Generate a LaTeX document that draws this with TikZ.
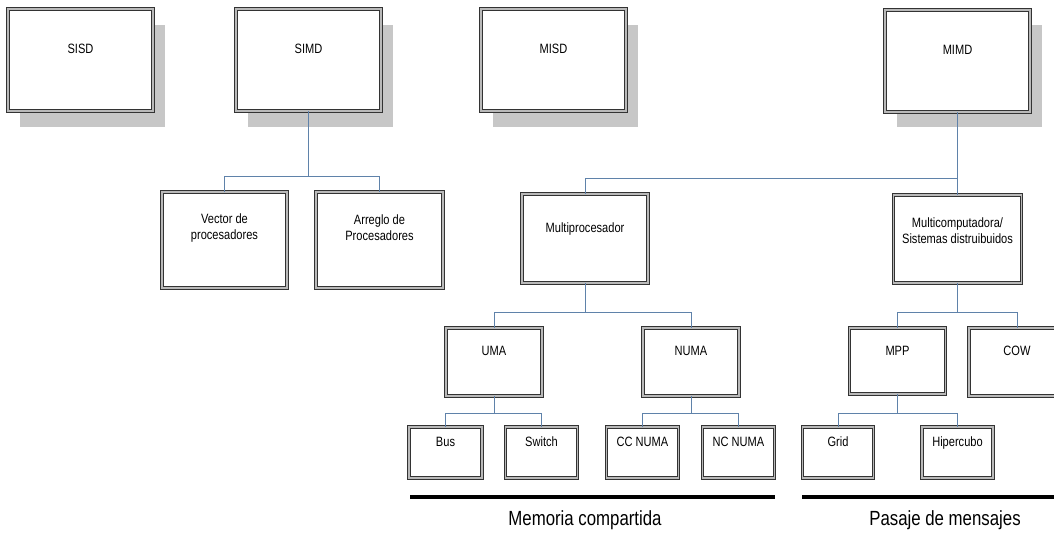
\documentclass[tikz,border=0pt]{standalone}
\usepackage{fontspec}
\setmainfont{Liberation Sans}[FakeStretch=0.82]
\begin{document}
\begin{tikzpicture}[x=1pt,y=-1pt,
  box/.style={draw=black!80, line width=0.9pt, double=gray!55, double distance=1.3pt,
    fill=white, rectangle, inner sep=0pt},
  lbl/.style={font=\fontsize{13.5}{16}\selectfont, align=center},
  lbl1/.style={font=\fontsize{13.5}{16}\selectfont, text height=9.8pt, text depth=2.9pt},
  conn/.style={draw={rgb,255:red,95;green,130;blue,170}, line width=1pt},
  sep/.style={line width=3.5pt, draw=black},
  caption/.style={font=\fontsize{20.5}{24}\selectfont}]
\useasboundingbox (0,0) rectangle (1054,533);
\clip (0,0) rectangle (1054,533);
\fill[white] (0,0) rectangle (1054,533);

% shadows of top boxes
\foreach \cx in {80.5,308.5,553.5,957.5}{
  \fill[black!22] (\cx-72.5+12,9+16) rectangle (\cx+72.5+12,111+16);
}

% top row
\node[box, minimum width=145pt, minimum height=102pt, label={[lbl1,anchor=center,yshift=-41pt]north:SISD}] (sisd) at (80.5,60) {};
\node[box, minimum width=145pt, minimum height=102pt, label={[lbl1,anchor=center,yshift=-41pt]north:SIMD}] (simd) at (308.5,60) {};
\node[box, minimum width=145pt, minimum height=102pt, label={[lbl1,anchor=center,yshift=-41pt]north:MISD}] (misd) at (553.5,60) {};
\node[box, minimum width=145pt, minimum height=102pt, label={[lbl1,anchor=center,yshift=-41pt]north:MIMD}] (mimd) at (957.5,61) {};

% second row
\node[box, minimum width=125pt, minimum height=96pt, label={[lbl,anchor=center,yshift=-36pt]north:Vector de\\procesadores}] (vec) at (224.5,240) {};
\node[box, minimum width=127pt, minimum height=96pt, label={[lbl,anchor=center,yshift=-36pt]north:Arreglo de\\Procesadores}] (arr) at (379.5,240) {};
\node[box, minimum width=126pt, minimum height=89pt, label={[lbl1,anchor=center,yshift=-35pt]north:Multiprocesador}] (mp) at (585,238.5) {};
\node[box, minimum width=128pt, minimum height=88pt, label={[lbl,anchor=center,yshift=-36pt]north:Multicomputadora/\\Sistemas distruibuidos}] (mc) at (957.5,239) {};

% third row
\node[box, minimum width=96pt, minimum height=68pt, label={[lbl1,anchor=center,yshift=-24pt]north:UMA}] (uma) at (494,362) {};
\node[box, minimum width=96pt, minimum height=68pt, label={[lbl1,anchor=center,yshift=-24pt]north:NUMA}] (numa) at (691,362) {};
\node[box, minimum width=96pt, minimum height=66pt, label={[lbl1,anchor=center,yshift=-24pt]north:MPP}] (mpp) at (897.5,361) {};
\node[box, minimum width=96pt, minimum height=68pt, label={[lbl1,anchor=center,yshift=-24pt]north:COW}] (cow) at (1017,362) {};

% fourth row
\node[box, minimum width=73pt, minimum height=51pt, label={[lbl1,anchor=center,yshift=-16pt]north:Bus}] (bus) at (445.5,452.5) {};
\node[box, minimum width=72pt, minimum height=51pt, label={[lbl1,anchor=center,yshift=-16pt]north:Switch}] (sw) at (541.5,452.5) {};
\node[box, minimum width=72pt, minimum height=51pt, label={[lbl1,anchor=center,yshift=-16pt]north:CC NUMA}] (ccn) at (642.5,452.5) {};
\node[box, minimum width=72pt, minimum height=51pt, label={[lbl1,anchor=center,yshift=-16pt]north:NC NUMA}] (ncn) at (738.5,452.5) {};
\node[box, minimum width=71pt, minimum height=51pt, label={[lbl1,anchor=center,yshift=-16pt]north:Grid}] (grid) at (838,452.5) {};
\node[box, minimum width=71pt, minimum height=51pt, label={[lbl1,anchor=center,yshift=-16pt]north:Hipercubo}] (hip) at (957.5,452.5) {};

% junctions
\path (simd.south) ++(0,65) coordinate (j1);
\path (mimd.south) ++(0,66.5) coordinate (j2);
\path (mp.south) ++(0,29) coordinate (j3);
\path (mc.south) ++(0,29) coordinate (j4);
\path (uma.south) ++(0,17) coordinate (j5);
\path (numa.south) ++(0,17) coordinate (j6);
\path (mpp.south) ++(0,19) coordinate (j7);

% connectors
\draw[conn] (simd.south) -- (j1);
\draw[conn] (vec.north) |- (j1) -| (arr.north);
\draw[conn] (mimd.south) -- (mc.north);
\draw[conn] (mp.north) |- (j2);
\draw[conn] (mp.south) -- (j3);
\draw[conn] (uma.north) |- (j3) -| (numa.north);
\draw[conn] (mc.south) -- (j4);
\draw[conn] (mpp.north) |- (j4) -| (cow.north);
\draw[conn] (uma.south) -- (j5);
\draw[conn] (bus.north) |- (j5) -| (sw.north);
\draw[conn] (numa.south) -- (j6);
\draw[conn] (ccn.north) |- (j6) -| (ncn.north);
\draw[conn] (mpp.south) -- (j7);
\draw[conn] (grid.north) |- (j7) -| (hip.north);

% group separators
\coordinate (m1) at (410,497);
\coordinate (m2) at (775,497);
\coordinate (p1) at (802,497);
\coordinate (p2) at (1060,497);
\draw[sep] (m1) -- (m2);
\draw[sep] (p1) -- (p2);
\node[caption] (memc) at (585,520) {Memoria compartida};
\node[caption] (pasm) at (945,520) {Pasaje de mensajes};
\end{tikzpicture}
\end{document}
